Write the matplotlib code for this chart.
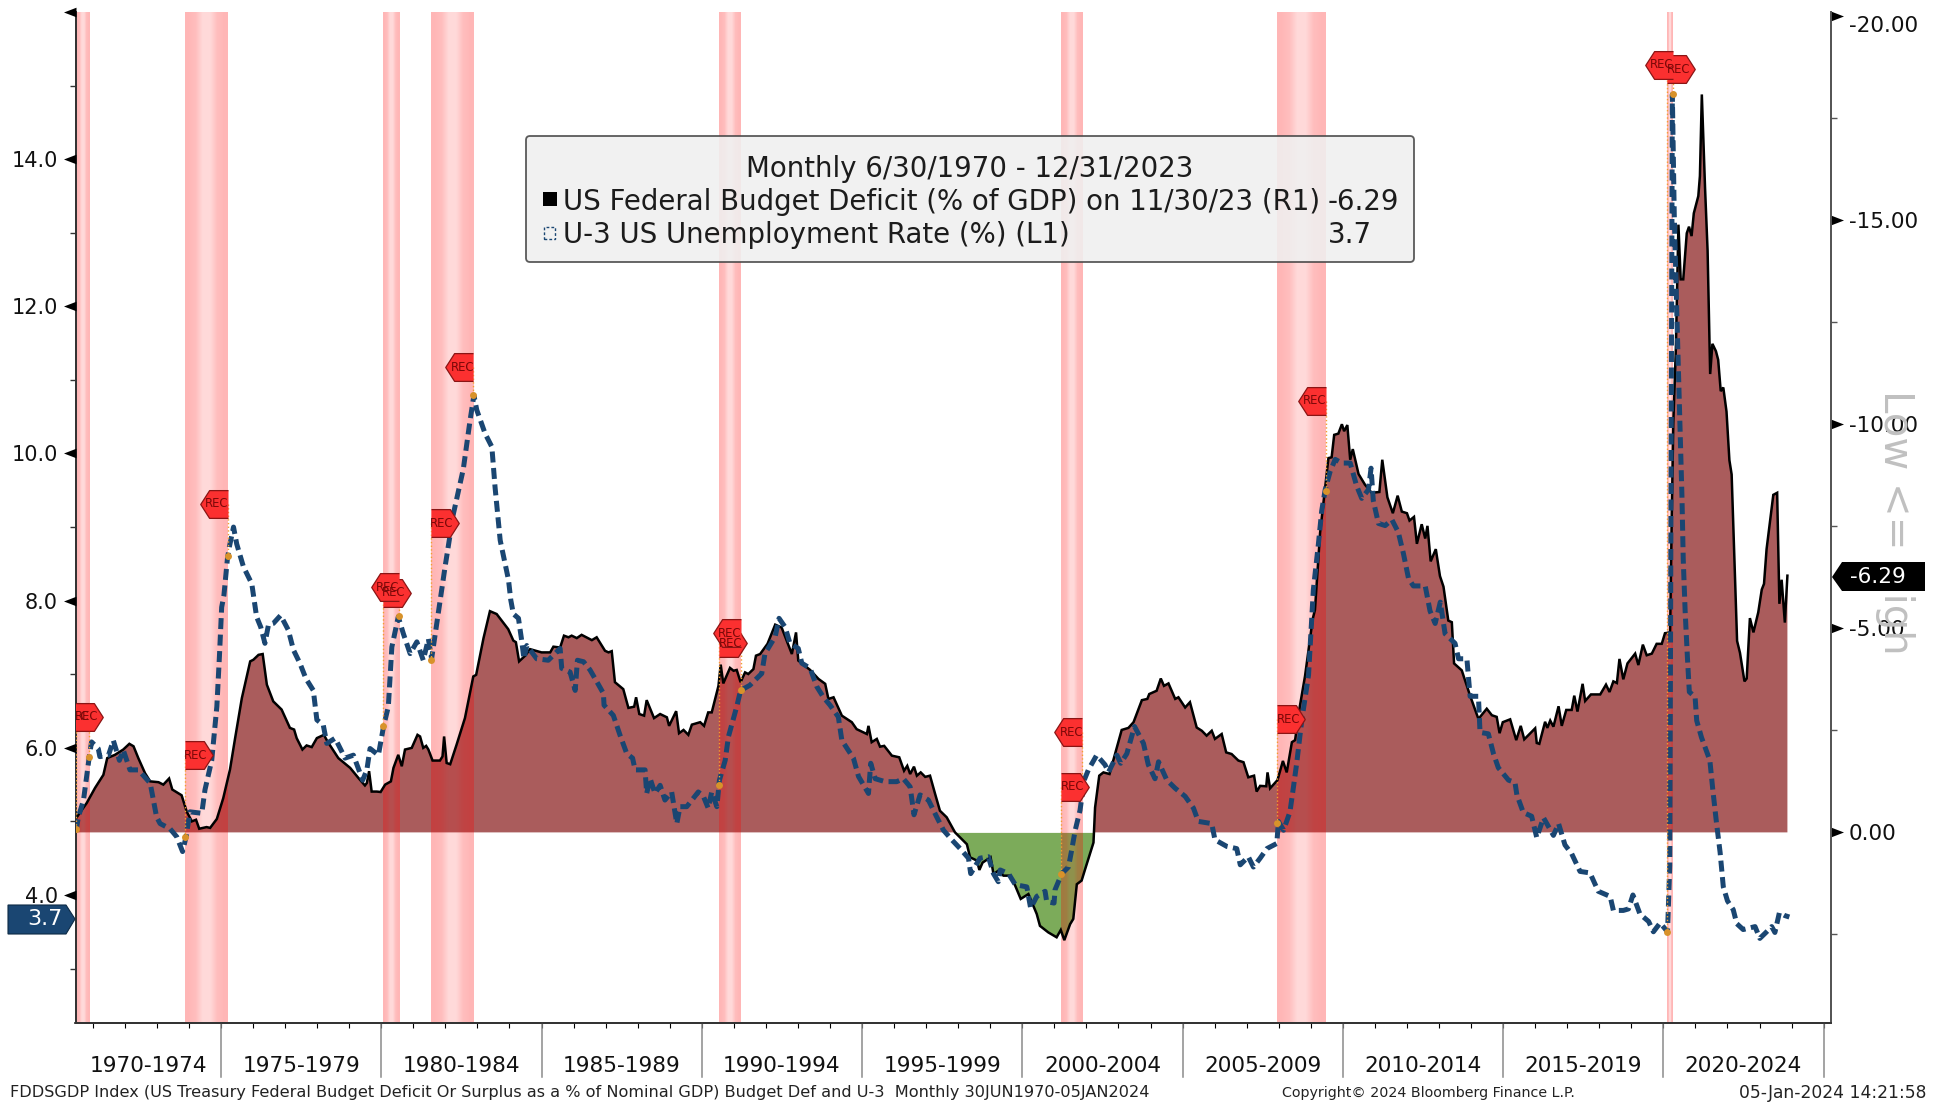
#!/usr/bin/env python
import numpy as np
import matplotlib
matplotlib.use("Agg")
import matplotlib.pyplot as plt
from matplotlib.patches import FancyBboxPatch, Polygon, Rectangle
from matplotlib.transforms import IdentityTransform, blended_transform_factory

# budget balance in % of GDP, right axis (inverted)
bal_years = [1970.48, 1970.81, 1971.07, 1971.33, 1971.45, 1971.69, 1971.95, 1972.14, 1972.27, 1972.42,
             1972.63, 1972.79, 1973.05, 1973.20, 1973.38, 1973.48, 1973.77, 1973.93, 1974.09, 1974.22,
             1974.32, 1974.55, 1974.66, 1974.87, 1975.07, 1975.28, 1975.44, 1975.65, 1975.91, 1976.01,
             1976.17, 1976.30, 1976.43, 1976.63, 1976.89, 1977.15, 1977.28, 1977.36, 1977.54, 1977.67,
             1977.83, 1977.99, 1978.21, 1978.32, 1978.66, 1979.03, 1979.29, 1979.49, 1979.55, 1979.62,
             1979.70, 1979.86, 1979.98, 1980.12, 1980.30, 1980.38, 1980.53, 1980.64, 1980.74, 1980.95,
             1981.13, 1981.21, 1981.31, 1981.40, 1981.47, 1981.60, 1981.83, 1981.91, 1981.96, 1982.04,
             1982.15, 1982.35, 1982.61, 1982.87, 1982.96, 1983.19, 1983.39, 1983.60, 1983.96, 1984.12,
             1984.20, 1984.30, 1984.49, 1984.64, 1985.00, 1985.27, 1985.37, 1985.58, 1985.70, 1985.84,
             1985.94, 1986.10, 1986.25, 1986.57, 1986.72, 1986.98, 1987.09, 1987.19, 1987.29, 1987.55,
             1987.71, 1987.89, 1987.95, 1988.05, 1988.20, 1988.28, 1988.51, 1988.70, 1988.91, 1988.98,
             1989.20, 1989.29, 1989.43, 1989.58, 1989.69, 1989.95, 1990.07, 1990.20, 1990.31, 1990.52,
             1990.59, 1990.67, 1990.88, 1990.99, 1991.09, 1991.21, 1991.35, 1991.45, 1991.61, 1991.69,
             1991.82, 1992.05, 1992.29, 1992.49, 1992.81, 1992.94, 1993.01, 1993.38, 1993.64, 1993.85,
             1993.95, 1994.11, 1994.37, 1994.68, 1994.83, 1995.15, 1995.20, 1995.30, 1995.46, 1995.56,
             1995.69, 1995.93, 1996.16, 1996.31, 1996.41, 1996.50, 1996.62, 1996.71, 1996.83, 1996.97,
             1997.12, 1997.28, 1997.43, 1997.64, 1997.90, 1998.27, 1998.37, 1998.58, 1998.66, 1998.76,
             1999.01, 1999.10, 1999.25, 1999.41, 1999.62, 1999.78, 1999.95, 2000.19, 2000.45, 2000.55,
             2000.81, 2001.07, 2001.20, 2001.31, 2001.49, 2001.59, 2001.70, 2001.85, 2001.96, 2002.22,
             2002.27, 2002.40, 2002.53, 2002.72, 2002.95, 2003.10, 2003.31, 2003.47, 2003.73, 2003.90,
             2003.96, 2004.19, 2004.32, 2004.42, 2004.56, 2004.77, 2004.87, 2005.08, 2005.23, 2005.44,
             2005.60, 2005.75, 2005.91, 2006.01, 2006.22, 2006.36, 2006.53, 2006.74, 2006.90, 2007.05,
             2007.23, 2007.31, 2007.42, 2007.61, 2007.65, 2007.73, 2007.96, 2008.13, 2008.25, 2008.41,
             2008.51, 2008.65, 2008.82, 2009.06, 2009.13, 2009.29, 2009.55, 2009.65, 2009.73, 2009.86,
             2009.97, 2010.04, 2010.14, 2010.23, 2010.31, 2010.49, 2010.69, 2010.90, 2011.14, 2011.23,
             2011.39, 2011.56, 2011.71, 2011.84, 2012.00, 2012.08, 2012.22, 2012.31, 2012.46, 2012.57,
             2012.64, 2012.74, 2012.90, 2013.03, 2013.14, 2013.29, 2013.40, 2013.47, 2013.71, 2013.97,
             2014.23, 2014.49, 2014.65, 2014.80, 2014.89, 2014.99, 2015.22, 2015.41, 2015.55, 2015.66,
             2016.00, 2016.05, 2016.13, 2016.31, 2016.38, 2016.47, 2016.57, 2016.73, 2016.83, 2016.97,
             2017.14, 2017.22, 2017.32, 2017.48, 2017.56, 2017.74, 2018.03, 2018.21, 2018.32, 2018.44,
             2018.55, 2018.63, 2018.75, 2018.88, 2019.12, 2019.22, 2019.36, 2019.48, 2019.64, 2019.79,
             2019.95, 2020.05, 2020.21, 2020.26, 2020.31, 2020.39, 2020.47, 2020.54, 2020.62, 2020.73,
             2020.80, 2020.88, 2020.95, 2021.09, 2021.14, 2021.20, 2021.30, 2021.38, 2021.46, 2021.53,
             2021.64, 2021.71, 2021.79, 2021.87, 2021.97, 2022.06, 2022.13, 2022.30, 2022.39, 2022.53,
             2022.60, 2022.70, 2022.81, 2022.96, 2023.07, 2023.14, 2023.22, 2023.43, 2023.55, 2023.62,
             2023.69, 2023.79, 2023.87]
bal_values = [-0.35, -0.72, -1.09, -1.41, -1.82, -1.90, -2.03, -2.17, -2.11, -1.82,
              -1.45, -1.25, -1.23, -1.17, -1.32, -1.05, -0.91, -0.51, -0.27, -0.31,
              -0.09, -0.13, -0.11, -0.33, -0.84, -1.54, -2.31, -3.29, -4.19, -4.23,
              -4.35, -4.37, -3.62, -3.21, -3.01, -2.56, -2.52, -2.31, -2.03, -2.13,
              -2.09, -2.31, -2.39, -2.23, -1.82, -1.58, -1.33, -1.15, -1.21, -1.50,
              -1.00, -1.00, -0.99, -1.17, -1.25, -1.58, -1.90, -1.62, -2.03, -2.07,
              -2.39, -2.35, -2.07, -2.12, -2.03, -1.76, -1.76, -1.86, -2.35, -1.70,
              -1.67, -2.15, -2.80, -3.82, -3.86, -4.76, -5.42, -5.35, -4.98, -4.70,
              -4.66, -4.19, -4.33, -4.49, -4.41, -4.41, -4.55, -4.53, -4.82, -4.78,
              -4.82, -4.76, -4.84, -4.71, -4.78, -4.45, -4.41, -4.44, -3.68, -3.51,
              -3.05, -3.08, -3.31, -2.90, -2.86, -3.24, -2.80, -2.90, -2.82, -2.61,
              -2.97, -2.43, -2.51, -2.39, -2.64, -2.70, -2.61, -2.94, -2.94, -3.59,
              -4.11, -3.65, -4.03, -3.96, -3.98, -3.68, -3.92, -3.88, -4.00, -4.33,
              -4.37, -4.62, -5.09, -5.02, -4.37, -4.90, -4.21, -3.98, -3.76, -3.64,
              -3.27, -3.31, -2.86, -2.70, -2.53, -2.41, -2.61, -2.21, -2.29, -2.10,
              -2.12, -1.88, -1.84, -1.51, -1.63, -1.43, -1.61, -1.39, -1.47, -1.36,
              -1.39, -0.94, -0.53, -0.37, 0.00, 0.29, 0.61, 0.69, 0.92, 0.74,
              0.61, 1.02, 0.94, 1.06, 1.06, 1.31, 1.63, 1.51, 2.00, 2.29,
              2.45, 2.57, 2.39, 2.64, 2.25, 2.12, 1.27, 1.18, 0.90, 0.25,
              -0.61, -1.39, -1.47, -1.43, -2.08, -2.51, -2.56, -2.70, -3.24, -3.27,
              -3.39, -3.47, -3.77, -3.59, -3.65, -3.27, -3.31, -3.06, -3.19, -2.57,
              -2.49, -2.37, -2.49, -2.29, -2.41, -1.96, -1.92, -1.76, -1.72, -1.35,
              -1.39, -1.00, -1.14, -1.13, -1.47, -1.08, -1.28, -1.75, -1.47, -2.21,
              -2.26, -3.05, -3.83, -5.23, -5.45, -7.34, -9.17, -9.19, -9.74, -9.77,
              -10.00, -9.83, -9.98, -9.13, -9.39, -8.78, -8.52, -8.32, -8.34, -9.13,
              -8.21, -7.82, -8.25, -7.86, -7.82, -7.64, -7.73, -7.07, -7.55, -7.20,
              -7.51, -6.64, -6.94, -6.28, -6.02, -5.19, -5.15, -4.14, -3.97, -3.35,
              -2.78, -3.03, -2.87, -2.83, -2.43, -2.70, -2.77, -2.26, -2.61, -2.28,
              -2.55, -2.19, -2.17, -2.71, -2.56, -2.74, -2.59, -3.09, -2.61, -3.00,
              -3.00, -3.35, -2.96, -3.64, -3.22, -3.38, -3.38, -3.62, -3.44, -3.70,
              -3.66, -4.25, -3.75, -4.14, -4.38, -4.10, -4.60, -4.34, -4.38, -4.62,
              -4.62, -4.88, -4.90, -7.64, -10.03, -11.86, -14.89, -13.55, -13.55, -14.68,
              -14.84, -14.61, -15.17, -15.59, -16.08, -18.08, -15.80, -14.25, -11.23, -11.97,
              -11.79, -11.58, -10.81, -10.90, -10.31, -9.12, -8.77, -4.69, -4.40, -3.70,
              -3.77, -5.25, -4.90, -5.39, -5.95, -6.09, -6.94, -8.27, -8.32, -5.60,
              -6.19, -5.14, -6.29]

# U-3 unemployment in %, left axis
unemp_years = [1970.48, 1970.55, 1970.71, 1970.89, 1970.96, 1971.17, 1971.22, 1971.49, 1971.64, 1971.83,
               1971.95, 1972.16, 1972.42, 1972.79, 1972.99, 1973.10, 1973.41, 1973.62, 1973.80, 1973.91,
               1974.03, 1974.40, 1974.50, 1974.71, 1974.87, 1974.95, 1975.02, 1975.09, 1975.20, 1975.26,
               1975.39, 1975.49, 1975.70, 1975.96, 1976.11, 1976.24, 1976.37, 1976.48, 1976.63, 1976.86,
               1977.10, 1977.26, 1977.46, 1977.65, 1977.88, 1977.99, 1978.19, 1978.30, 1978.56, 1978.87,
               1979.13, 1979.42, 1979.55, 1979.65, 1979.91, 1980.07, 1980.22, 1980.33, 1980.53, 1980.69,
               1980.90, 1981.11, 1981.31, 1981.47, 1981.57, 1981.73, 1981.99, 1982.25, 1982.56, 1982.77,
               1982.89, 1982.98, 1983.24, 1983.45, 1983.55, 1983.71, 1983.97, 1984.04, 1984.12, 1984.28,
               1984.38, 1984.45, 1984.54, 1984.85, 1985.21, 1985.58, 1985.63, 1985.89, 1986.05, 1986.12,
               1986.31, 1986.51, 1986.67, 1986.93, 1986.95, 1987.24, 1987.45, 1987.66, 1987.84, 1987.92,
               1988.23, 1988.28, 1988.39, 1988.54, 1988.70, 1988.85, 1989.06, 1989.22, 1989.32, 1989.53,
               1989.89, 1990.05, 1990.20, 1990.31, 1990.47, 1990.55, 1990.73, 1990.83, 1991.09, 1991.21,
               1991.50, 1991.87, 1991.97, 1992.29, 1992.41, 1992.60, 1992.75, 1993.01, 1993.12, 1993.38,
               1993.59, 1993.79, 1994.00, 1994.26, 1994.37, 1994.73, 1994.89, 1995.20, 1995.27, 1995.41,
               1995.72, 1996.08, 1996.29, 1996.50, 1996.62, 1996.81, 1997.07, 1997.33, 1997.54, 1997.80,
               1998.06, 1998.32, 1998.39, 1998.68, 1998.94, 1999.10, 1999.25, 1999.31, 1999.57, 1999.78,
               2000.14, 2000.26, 2000.45, 2000.71, 2000.76, 2000.99, 2001.02, 2001.23, 2001.44, 2001.54,
               2001.65, 2001.80, 2001.93, 2002.06, 2002.32, 2002.58, 2002.69, 2002.95, 2003.07, 2003.26,
               2003.50, 2003.78, 2003.93, 2004.14, 2004.25, 2004.51, 2004.77, 2005.08, 2005.34, 2005.49,
               2005.91, 2006.01, 2006.38, 2006.69, 2006.80, 2007.05, 2007.21, 2007.42, 2007.63, 2007.94,
               2007.99, 2008.15, 2008.35, 2008.46, 2008.56, 2008.72, 2008.93, 2009.08, 2009.24, 2009.34,
               2009.45, 2009.60, 2009.76, 2009.97, 2010.23, 2010.43, 2010.59, 2010.80, 2010.88, 2010.95,
               2011.11, 2011.32, 2011.53, 2011.73, 2011.89, 2012.05, 2012.20, 2012.57, 2012.72, 2012.88,
               2013.04, 2013.19, 2013.50, 2013.61, 2013.87, 2013.97, 2014.23, 2014.28, 2014.54, 2014.70,
               2014.85, 2015.17, 2015.37, 2015.43, 2015.63, 2015.89, 2016.05, 2016.26, 2016.57, 2016.73,
               2016.93, 2017.14, 2017.40, 2017.71, 2017.97, 2018.34, 2018.44, 2018.75, 2018.91, 2019.05,
               2019.27, 2019.54, 2019.69, 2019.90, 2020.13, 2020.20, 2020.28, 2020.34, 2020.41, 2020.47,
               2020.52, 2020.58, 2020.62, 2020.68, 2020.75, 2020.81, 2020.99, 2021.04, 2021.19, 2021.45,
               2021.54, 2021.66, 2021.77, 2021.87, 2022.00, 2022.18, 2022.29, 2022.49, 2022.86, 2023.01,
               2023.20, 2023.38, 2023.48, 2023.62, 2023.79, 2023.93]
unemp_values = [4.88, 5.06, 5.29, 5.88, 6.08, 5.99, 5.88, 5.90, 6.10, 5.83,
                5.97, 5.70, 5.70, 5.52, 5.06, 4.97, 4.90, 4.79, 4.59, 4.79,
                5.13, 5.11, 5.43, 5.83, 6.56, 7.24, 7.91, 8.07, 8.57, 8.73,
                9.00, 8.77, 8.46, 8.23, 7.78, 7.64, 7.42, 7.67, 7.69, 7.80,
                7.60, 7.33, 7.15, 6.94, 6.78, 6.38, 6.31, 6.06, 6.13, 5.86,
                5.90, 5.56, 5.70, 5.99, 5.90, 6.29, 6.56, 7.37, 7.78, 7.55,
                7.28, 7.44, 7.19, 7.48, 7.21, 7.69, 8.46, 9.18, 9.79, 10.45,
                10.79, 10.59, 10.27, 10.09, 9.54, 8.82, 8.28, 8.01, 7.82, 7.76,
                7.46, 7.21, 7.39, 7.21, 7.19, 7.35, 7.08, 7.03, 6.78, 7.19,
                7.17, 7.06, 6.94, 6.74, 6.58, 6.44, 6.17, 5.92, 5.86, 5.70,
                5.70, 5.38, 5.58, 5.38, 5.49, 5.29, 5.40, 4.97, 5.20, 5.20,
                5.40, 5.34, 5.18, 5.40, 5.20, 5.56, 5.83, 6.15, 6.56, 6.78,
                6.85, 7.01, 7.28, 7.51, 7.76, 7.64, 7.42, 7.35, 7.15, 7.08,
                6.83, 6.69, 6.58, 6.42, 6.10, 5.86, 5.61, 5.38, 5.79, 5.58,
                5.54, 5.54, 5.58, 5.47, 5.09, 5.36, 5.29, 5.06, 4.88, 4.75,
                4.63, 4.50, 4.29, 4.50, 4.52, 4.29, 4.18, 4.34, 4.29, 4.14,
                4.11, 3.82, 3.98, 4.05, 3.91, 3.89, 4.07, 4.29, 4.38, 4.61,
                4.88, 5.15, 5.56, 5.70, 5.90, 5.77, 5.67, 5.90, 5.79, 5.92,
                6.29, 6.06, 5.77, 5.58, 5.81, 5.56, 5.45, 5.34, 5.18, 5.00,
                4.97, 4.75, 4.66, 4.63, 4.41, 4.52, 4.38, 4.50, 4.63, 4.70,
                5.00, 4.88, 5.13, 5.47, 5.79, 6.38, 6.99, 8.15, 8.78, 9.22,
                9.51, 9.75, 9.92, 9.87, 9.87, 9.56, 9.39, 9.51, 9.80, 9.36,
                9.05, 9.02, 9.10, 8.93, 8.64, 8.30, 8.20, 8.20, 7.86, 7.69,
                7.98, 7.55, 7.42, 7.21, 7.21, 6.70, 6.70, 6.21, 6.19, 5.92,
                5.73, 5.56, 5.53, 5.36, 5.12, 5.07, 4.78, 5.05, 4.81, 4.97,
                4.68, 4.56, 4.32, 4.30, 4.05, 3.98, 3.79, 3.79, 3.81, 4.00,
                3.74, 3.64, 3.50, 3.62, 3.50, 4.40, 14.88, 13.24, 12.06, 11.13,
                10.35, 9.41, 8.56, 7.85, 7.23, 6.76, 6.69, 6.37, 6.14, 5.83,
                5.44, 4.97, 4.58, 4.11, 3.92, 3.80, 3.61, 3.53, 3.57, 3.41,
                3.49, 3.57, 3.49, 3.76, 3.72, 3.70]

# recessions, with the height of the REC flags and the unemployment value at each end
rec_start = [1969.96, 1973.87, 1980.04, 1981.54, 1990.54, 2001.21, 2007.96, 2020.12]
rec_end = [1970.87, 1975.21, 1980.54, 1982.87, 1991.21, 2001.87, 2009.46, 2020.29]
flag_start = [6.42, 5.90, 8.11, 9.05, 7.42, 5.47, 6.39, 15.22]
flag_end = [6.42, 9.32, 8.18, 11.17, 7.56, 6.21, 10.72, 15.28]
unemp_start = [4.89, 4.79, 6.29, 7.20, 5.49, 4.29, 4.98, 3.50]
unemp_end = [5.88, 8.60, 7.79, 10.79, 6.78, 5.48, 9.49, 14.88]

group_labels = ["1970-1974", "1975-1979", "1980-1984", "1985-1989", "1990-1994", "1995-1999",
                "2000-2004", "2005-2009", "2010-2014", "2015-2019", "2020-2024"]
group_edges = [1975, 1980, 1985, 1990, 1995, 2000, 2005, 2010, 2015, 2020, 2025]

W, H = 1942, 1105
XLIM = (1970.46, 2025.23)
LEFT_LIM = (2.26, 16.0)
RIGHT_LIM = (4.67, -20.1)

NAVY = "#1a4672"
FILL_RED = "#aa5c5c"
FILL_GREEN = "#7cab5a"
ORANGE = "#f2a030"
FONT = "DejaVu Sans"


def fig_xy(x, y):
    return x / W, 1 - y / H


def draw_band(ax, x0, x1):
    # lighter in the middle, as on the terminal
    alpha = [0.29, 0.26, 0.15, 0.15, 0.26, 0.29]
    rgba = np.zeros((1, len(alpha), 4))
    rgba[..., 0] = 1.0
    rgba[..., 3] = alpha
    ax.imshow(rgba, extent=[x0, x1, RIGHT_LIM[0], RIGHT_LIM[1]], aspect="auto",
              interpolation="bilinear", zorder=2, origin="upper")


def draw_flag(ax, x, y, points_right):
    if points_right:
        verts = [(0, -0.5), (0.68, -0.5), (1, 0), (0.68, 0.5), (0, 0.5)]
        off = 8
    else:
        verts = [(0, -0.5), (-0.68, -0.5), (-1, 0), (-0.68, 0.5), (0, 0.5)]
        off = -8
    ax.plot([x], [y], linestyle="none", marker=verts, markersize=40, markerfacecolor="#fb3030",
            markeredgecolor="#8a1515", markeredgewidth=0.9, zorder=6)
    ax.annotate("REC", (x, y), xytext=(off, 0), textcoords="offset points", ha="center", va="center",
                fontsize=8.4, color="#7a0808", zorder=7, annotation_clip=True, clip_on=True,
                family=FONT)


def main():
    fig = plt.figure(figsize=(W / 100, H / 100), dpi=100, facecolor="white")
    rect = [75.5 / W, (H - 1023) / H, (1831 - 75.5) / W, (1023 - 12) / H]
    ax2 = fig.add_axes(rect)
    ax = ax2.twinx()
    ax.set_zorder(ax2.get_zorder() + 1)
    ax.patch.set_visible(False)
    ax.yaxis.tick_left()
    ax2.yaxis.tick_right()

    years = np.array(bal_years)
    vals = np.array(bal_values)
    ax2.fill_between(years, 0, vals, where=vals <= 0, interpolate=True, color=FILL_RED, lw=0, zorder=1)
    ax2.fill_between(years, 0, vals, where=vals >= 0, interpolate=True, color=FILL_GREEN, lw=0, zorder=1)
    for x0, x1 in zip(rec_start, rec_end):
        draw_band(ax2, max(x0, XLIM[0]), x1)
    ax2.plot(years, vals, color="black", lw=1.8, zorder=3, solid_joinstyle="miter")

    ax.plot(unemp_years, unemp_values, color=NAVY, lw=3.6, linestyle=(0, (2.2, 1.1)), zorder=4,
            dash_capstyle="butt")

    # dotted leaders and dots from each REC flag to the unemployment line
    for xs, fl, un in [(rec_start, flag_start, unemp_start), (rec_end, flag_end, unemp_end)]:
        for x, f, u in zip(xs, fl, un):
            x = max(x, XLIM[0] + 0.02)
            ax.plot([x, x], [f, u], color=ORANGE, lw=1.0, ls=":", zorder=5)
            ax.plot([x], [u], "o", color="#d8922a", ms=5, mew=0, zorder=5)
    for x, f in zip(rec_start, flag_start):
        draw_flag(ax, max(x, XLIM[0]), f, True)
    for x, f in zip(rec_end, flag_end):
        draw_flag(ax, x, f, False)

    ax2.set_xlim(XLIM)
    ax.set_xlim(XLIM)
    ax2.set_ylim(RIGHT_LIM)
    ax.set_ylim(LEFT_LIM)

    for a in (ax, ax2):
        a.spines["top"].set_visible(False)
        a.spines["left"].set_color("#333333")
        a.spines["right"].set_color("#555555")
        a.spines["bottom"].set_color("#333333")
        for s in a.spines.values():
            s.set_linewidth(1.3)

    # left axis
    left_major = [4, 6, 8, 10, 12, 14]
    ax.set_yticks(left_major, ["%.1f" % v for v in left_major])
    ax.set_yticks([3, 5, 7, 9, 11, 13, 15], minor=True)
    ax.tick_params(axis="y", which="major", length=0, pad=12.6, labelsize=15, colors="#111111")
    ax.tick_params(axis="y", which="minor", length=4, width=1, color="#333333")

    # right axis
    right_major = [-20, -15, -10, -5, 0]
    ax2.set_yticks(right_major, ["%.2f" % v if v else "0.00" for v in right_major])
    ax2.set_yticks([-17.5, -12.5, -7.5, -2.5, 2.5], minor=True)
    ax2.tick_params(axis="y", which="major", length=0, pad=13, labelsize=15.5, colors="#111111")
    ax2.tick_params(axis="y", which="minor", length=4.5, width=1, color="#555555")
    ax2.yaxis.get_major_ticks()[0].label2.set_va("top")

    # triangles for the major ticks
    tl = blended_transform_factory(ax.transAxes, ax.transData)
    ax.plot([0] * 7, left_major + [16], transform=tl, linestyle="none", clip_on=False, color="black",
            marker=[(0, -1), (0, 1), (-2.6, 0)], markersize=18, mew=0, zorder=8)
    tr = blended_transform_factory(ax2.transAxes, ax2.transData)
    ax2.plot([1] * 5, right_major, transform=tr, linestyle="none", clip_on=False, color="black",
             marker=[(0, -1), (0, 1), (2.6, 0)], markersize=18, mew=0, zorder=8)

    # x axis: yearly ticks, five year groups
    ax2.set_xticks([])
    ax.set_xticks(np.arange(1971, 2026), [""] * 55)
    ax.tick_params(axis="x", which="major", length=4.5, width=1, color="#333333")
    tx = ax.get_xaxis_transform()
    sep_bottom = -(1077 - 1023) / (1023 - 12)
    for e in group_edges:
        ax.plot([e, e], [0, sep_bottom], transform=tx, color="#8a8a8a", lw=1.1, clip_on=False)
    lo = XLIM[0]
    for lab, e in zip(group_labels, group_edges):
        ax.text((lo + e) / 2, -(1066 - 1023) / (1023 - 12), lab, transform=tx, ha="center", va="center",
                fontsize=15.6, color="#111111", family=FONT)
        lo = e

    # gray scale direction text, sits under the value tag
    fx, fy = fig_xy(1895, 522)
    fig.text(fx, fy, "Low <= High", rotation=270, color="#c0c0c0", fontsize=29, ha="center", va="center",
             family=FONT, zorder=1)

    # value tags at the axis ends
    ident = IdentityTransform()
    tag_black = [(1832, 577), (1842, 562), (1925, 562), (1925, 591), (1842, 591)]
    fig.add_artist(Polygon([(x, H - y) for x, y in tag_black], closed=True, transform=ident,
                           facecolor="black", edgecolor="none", zorder=5))
    fx, fy = fig_xy(1878, 577)
    fig.text(fx, fy, "-6.29", color="white", fontsize=15.5, ha="center", va="center", family=FONT, zorder=6)
    tag_navy = [(8, 905), (66, 905), (75, 919), (66, 934), (8, 934)]
    fig.add_artist(Polygon([(x, H - y) for x, y in tag_navy], closed=True, transform=ident,
                           facecolor=NAVY, edgecolor="#0d2a45", lw=0.8, zorder=5))
    fx, fy = fig_xy(45, 919)
    fig.text(fx, fy, "3.7", color="white", fontsize=16, ha="center", va="center", family=FONT, zorder=6)

    # legend box
    fig.add_artist(FancyBboxPatch((526, H - 262), 888, 126, boxstyle="round,pad=0,rounding_size=4",
                                  transform=ident, facecolor="#f0f0f0", edgecolor="#444444", lw=1.3,
                                  alpha=0.88, zorder=5))
    legend_font = dict(fontsize=19.9, color="#1c1c1c", va="center", family=FONT, zorder=6)
    fig.text(*fig_xy(970, 169), "Monthly 6/30/1970 - 12/31/2023", ha="center", **legend_font)
    fig.text(*fig_xy(563, 202), "US Federal Budget Deficit (% of GDP) on 11/30/23 (R1)", ha="left", **legend_font)
    fig.text(*fig_xy(1328, 202), "-6.29", ha="left", **legend_font)
    fig.text(*fig_xy(563, 235), "U-3 US Unemployment Rate (%) (L1)", ha="left", **legend_font)
    fig.text(*fig_xy(1328, 235), "3.7", ha="left", **legend_font)
    fig.add_artist(Rectangle((543, H - 206), 14, 14, transform=ident, facecolor="black", edgecolor="none", zorder=6))
    fig.add_artist(Rectangle((544, H - 239), 11, 12, transform=ident, facecolor="none", edgecolor=NAVY,
                             lw=1.0, ls=(0, (2, 1.5)), zorder=6))

    # footer, the three pieces differ a little in width on the original
    footer = dict(color="#222222", va="center", family=FONT)
    fig.text(*fig_xy(10, 1093), "FDDSGDP Index (US Treasury Federal Budget Deficit Or Surplus as a % of Nominal GDP) "
             "Budget Def and U-3  Monthly 30JUN1970-05JAN2024", ha="left", fontsize=11.6, **footer)
    fig.text(*fig_xy(1282, 1093), "Copyright\u00a9 2024 Bloomberg Finance L.P.", ha="left", fontsize=10.3, **footer)
    fig.text(*fig_xy(1926, 1093), "05-Jan-2024 14:21:58", ha="right", fontsize=12.3, **footer)

    fig.savefig("out.png", dpi=100, facecolor="white")


if __name__ == "__main__":
    main()
